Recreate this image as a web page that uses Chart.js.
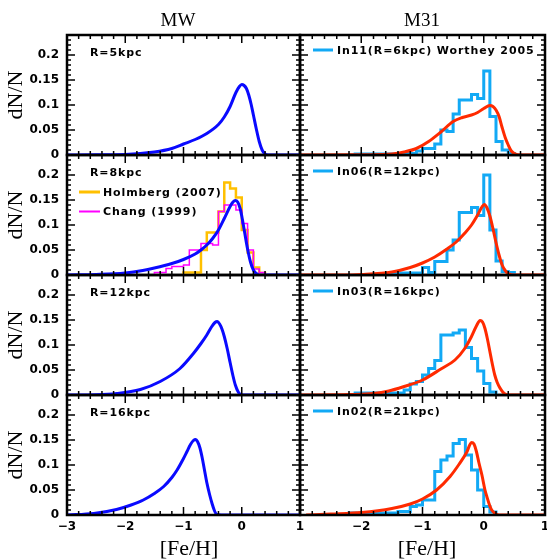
<!DOCTYPE html>
<html>
<head>
<meta charset="utf-8">
<title>MW / M31 metallicity distributions</title>
<script src="https://cdn.jsdelivr.net/npm/chart.js@4.4.1/dist/chart.umd.min.js"></script>
<style>
  html, body { margin: 0; padding: 0; background: #fff; }
  #figure { position: relative; width: 547px; height: 560px; overflow: hidden; }
  #figure canvas { position: absolute; left: 0; top: 0; }
  .lbl { position: absolute; white-space: nowrap; color: #000; }
  .title { font-family: "Liberation Serif", serif; font-size: 19px; transform: translate(-50%, -50%); }
  .ytitle { font-family: "Liberation Serif", serif; font-size: 22px; transform: translate(-50%, -50%) rotate(-90deg); }
  .xtitle { font-family: "Liberation Serif", serif; font-size: 22px; transform: translate(-50%, -50%); }
  .tag { font-family: "DejaVu Sans", sans-serif; font-weight: bold; font-size: 11px; letter-spacing: 0.9px;
         transform: translateY(-50%); display: flex; align-items: center; }
  .tag i { display: inline-block; width: 21px; margin-right: 3px; border-top: 3px solid; }
</style>
</head>
<body>
<div id="figure">
  <div class="lbl title" style="left:178px;top:20px">MW</div>
  <div class="lbl title" style="left:422px;top:20px">M31</div>

  <div class="lbl ytitle" style="left:15px;top:95px">dN/N</div>
  <div class="lbl ytitle" style="left:15px;top:215px">dN/N</div>
  <div class="lbl ytitle" style="left:15px;top:335px">dN/N</div>
  <div class="lbl ytitle" style="left:15px;top:455px">dN/N</div>

  <div class="lbl xtitle" style="left:189px;top:548px">[Fe/H]</div>
  <div class="lbl xtitle" style="left:427px;top:548px">[Fe/H]</div>

  <div class="lbl tag" style="left:90px;top:52px">R=5kpc</div>
  <div class="lbl tag" style="left:90px;top:172px">R=8kpc</div>
  <div class="lbl tag" style="left:79px;top:192px"><i style="border-color:#ffc000"></i>Holmberg (2007)</div>
  <div class="lbl tag" style="left:79px;top:211px"><i style="border-color:#ff00ff;border-top-width:2px"></i>Chang (1999)</div>
  <div class="lbl tag" style="left:90px;top:292px">R=12kpc</div>
  <div class="lbl tag" style="left:90px;top:412px">R=16kpc</div>

  <div class="lbl tag" style="left:313px;top:50px"><i style="border-color:#12a9f5;width:20px;margin-right:4px"></i>In11(R=6kpc) Worthey 2005</div>
  <div class="lbl tag" style="left:313px;top:171px"><i style="border-color:#12a9f5;width:20px;margin-right:4px"></i>In06(R=12kpc)</div>
  <div class="lbl tag" style="left:313px;top:291px"><i style="border-color:#12a9f5;width:20px;margin-right:4px"></i>In03(R=16kpc)</div>
  <div class="lbl tag" style="left:313px;top:411px"><i style="border-color:#12a9f5;width:20px;margin-right:4px"></i>In02(R=21kpc)</div>
</div>

<script>
"use strict";

// ---------- Axes ----------

const X_MIN = -3, X_MAX = 1, Y_MAX = 0.24;
const X_MINOR = 0.2, Y_MINOR = 0.01;
const BIN = 0.1;                        // histogram bin width in dex
const xTicksLeft = [-3, -2, -1, 0, 1];
const xTicksRight = [-2, -1, 0, 1];     // -3 sits under the MW panel's "1"
const yTicks = [0, 0.05, 0.1, 0.15, 0.2];

// ---------- MW model curves ([Fe/H], dN/N) ----------

const mw5Fe = [-3, -2.5, -2, -1.5, -1.2, -1, -0.8, -0.6, -0.4, -0.3, -0.2, -0.1, -0.04, 0, 0.04, 0.08, 0.12, 0.16, 0.2, 0.25, 0.3, 0.35, 0.4, 0.45, 1];
const mw5N  = [0, 0.0003, 0.001, 0.006, 0.013, 0.022, 0.031, 0.043, 0.061, 0.076, 0.097, 0.125, 0.137, 0.141, 0.139, 0.133, 0.12, 0.102, 0.08, 0.052, 0.027, 0.01, 0.002, 0, 0];

const mw8Fe = [-3, -2.5, -2, -1.7, -1.5, -1.2, -1, -0.8, -0.7, -0.6, -0.5, -0.4, -0.3, -0.2, -0.15, -0.11, -0.07, -0.03, 0, 0.05, 0.1, 0.15, 0.2, 0.25, 0.3, 1];
const mw8N  = [0, 0.001, 0.004, 0.009, 0.014, 0.023, 0.031, 0.042, 0.05, 0.06, 0.073, 0.09, 0.113, 0.137, 0.146, 0.149, 0.146, 0.134, 0.118, 0.085, 0.052, 0.026, 0.01, 0.003, 0, 0];

const mw12Fe = [-3, -2.5, -2.14, -1.74, -1.4, -1.06, -0.83, -0.7, -0.6, -0.52, -0.46, -0.42, -0.38, -0.34, -0.3, -0.25, -0.2, -0.15, -0.11, -0.06, 0, 1];
const mw12N  = [0, 0.0005, 0.003, 0.011, 0.027, 0.053, 0.083, 0.103, 0.12, 0.136, 0.145, 0.147, 0.142, 0.132, 0.117, 0.093, 0.065, 0.038, 0.02, 0.006, 0, 0];

const mw16Fe = [-3, -2.54, -2.15, -1.9, -1.69, -1.5, -1.34, -1.2, -1.11, -1, -0.94, -0.88, -0.83, -0.79, -0.76, -0.72, -0.68, -0.64, -0.6, -0.55, -0.51, -0.47, -0.43, -0.35, 1];
const mw16N  = [0, 0.003, 0.011, 0.02, 0.03, 0.043, 0.057, 0.075, 0.09, 0.113, 0.127, 0.141, 0.149, 0.151, 0.147, 0.135, 0.115, 0.09, 0.065, 0.04, 0.023, 0.009, 0.001, 0, 0];

// ---------- Solar neighbourhood histograms (R = 8 kpc) ----------

const holmbergStart = -1.0;
const holmbergN = [0.005, 0.005, 0.005, 0.05, 0.085, 0.085, 0.127, 0.185, 0.173, 0.155, 0.09, 0.045, 0.015, 0.004];

const changStart = -1.5;
const changN = [0.005, 0.005, 0.013, 0.017, 0.017, 0.02, 0.05, 0.05, 0.063, 0.063, 0.06, 0.127, 0.14, 0.14, 0.13, 0.103, 0.05, 0.012, 0.005];

// ---------- M31 fields (Worthey 2005) ----------

const in11Start = -2.1;
const in11N = [0.002, 0.002, 0.002, 0.002, 0.002, 0.002, 0.002, 0.003, 0.003, 0.003, 0.008, 0.013, 0.013, 0.022, 0.05, 0.047, 0.082, 0.11, 0.11, 0.121, 0.113, 0.168, 0.077, 0.027, 0.01, 0.003];

const in06Start = -1.5;
const in06N = [0.004, 0.004, 0.004, 0.004, 0.004, 0.015, 0.005, 0.027, 0.027, 0.05, 0.07, 0.125, 0.125, 0.135, 0.119, 0.2, 0.09, 0.028, 0.007, 0.005];

const in03Start = -2.1;
const in03N = [0.004, 0.004, 0.004, 0.004, 0.004, 0.004, 0.004, 0.004, 0.01, 0.022, 0.027, 0.04, 0.053, 0.069, 0.12, 0.12, 0.124, 0.13, 0.095, 0.073, 0.048, 0.023, 0.006];

const in02Start = -2.2;
const in02N = [0.004, 0.004, 0.004, 0.004, 0.004, 0.004, 0.004, 0.004, 0.007, 0.007, 0.017, 0.02, 0.03, 0.03, 0.087, 0.11, 0.118, 0.143, 0.151, 0.12, 0.09, 0.05, 0.017, 0.006];

// ---------- M31 model curves ----------

const m31aFe = [-3, -2, -1.7, -1.5, -1.3, -1.1, -0.9, -0.7, -0.5, -0.35, -0.2, -0.1, 0, 0.1, 0.15, 0.2, 0.25, 0.3, 0.35, 0.4, 0.45, 0.5, 0.6, 1];
const m31aN  = [0, 0.0005, 0.001, 0.002, 0.006, 0.013, 0.027, 0.046, 0.067, 0.075, 0.08, 0.085, 0.093, 0.099, 0.097, 0.09, 0.077, 0.055, 0.035, 0.02, 0.008, 0.003, 0, 0];

const m31bFe = [-3, -2.3, -2, -1.5, -1.2, -1, -0.8, -0.6, -0.45, -0.3, -0.2, -0.1, -0.03, 0.01, 0.05, 0.1, 0.15, 0.2, 0.25, 0.3, 0.35, 0.4, 0.5, 1];
const m31bN  = [0, 0, 0.001, 0.006, 0.015, 0.024, 0.036, 0.052, 0.066, 0.085, 0.1, 0.12, 0.136, 0.141, 0.135, 0.118, 0.093, 0.065, 0.04, 0.02, 0.009, 0.003, 0, 0];

const m31cFe = [-3, -2.2, -1.8, -1.55, -1.3, -1, -0.7, -0.47, -0.31, -0.2, -0.12, -0.06, -0.02, 0.02, 0.06, 0.1, 0.14, 0.18, 0.22, 0.27, 0.31, 0.35, 0.45, 1];
const m31cN  = [0, 0.001, 0.003, 0.008, 0.017, 0.03, 0.052, 0.07, 0.093, 0.117, 0.138, 0.149, 0.146, 0.133, 0.112, 0.087, 0.062, 0.04, 0.025, 0.013, 0.006, 0.002, 0, 0];

const m31dFe = [-2.9, -2.5, -2, -1.5, -1.2, -1, -0.77, -0.55, -0.4, -0.28, -0.2, -0.16, -0.12, -0.08, -0.03, 0.02, 0.05, 0.1, 0.13, 0.2, 0.3, 1];
const m31dN  = [0, 0.002, 0.005, 0.013, 0.022, 0.032, 0.05, 0.077, 0.102, 0.125, 0.145, 0.142, 0.127, 0.105, 0.08, 0.05, 0.037, 0.018, 0.01, 0.002, 0, 0];

// ---------- Layout ----------

const W = 547, H = 560;
const COLS = [{ left: 67, right: 300 }, { left: 300, right: 545 }];
const ROWS = [{ top: 35, bottom: 155 }, { top: 155, bottom: 275 }, { top: 275, bottom: 395 }, { top: 395, bottom: 515 }];
const X_AXIS_H = 30;

const BLUE = "#0a0aff", RED = "#ff2a00", CYAN = "#12a9f5", GOLD = "#ffc000", MAGENTA = "#ff00ff";
const tickFont = { family: "DejaVu Sans", weight: "bold", size: 12 };

// ---------- Dataset builders ----------

function curve(fe, n, color) {
    return {
        data: fe.map((x, i) => ({ x, y: n[i] })),
        borderColor: color,
        borderWidth: 3,
        cubicInterpolationMode: "monotone",
        pointRadius: 0,
    };
}

// Step outline: rises at the first bin edge, drops after the last one
function histogram(start, counts, color, width) {
    const pts = [{ x: start, y: 0 }];
    counts.forEach((c, i) => pts.push({ x: start + i * BIN, y: c }));
    pts.push({ x: start + counts.length * BIN, y: 0 });
    return {
        data: pts,
        borderColor: color,
        borderWidth: width,
        stepped: "before",
        borderJoinStyle: "miter",
        pointRadius: 0,
    };
}

// ---------- Frame + inward ticks on all four sides ----------

const frameTicks = {
    id: "frameTicks",
    afterDatasetsDraw(chart) {
        const { ctx, chartArea: a, scales: { x, y } } = chart;
        ctx.save();
        ctx.strokeStyle = "#000";
        ctx.lineWidth = 1.5;
        ctx.beginPath();
        const nx = Math.round((X_MAX - X_MIN) / X_MINOR);
        for (let i = 0; i <= nx; i++) {
            const px = x.getPixelForValue(X_MIN + i * X_MINOR);
            const len = i % 5 === 0 ? 8 : 4;
            ctx.moveTo(px, a.bottom); ctx.lineTo(px, a.bottom - len);
            ctx.moveTo(px, a.top); ctx.lineTo(px, a.top + len);
        }
        const ny = Math.round(Y_MAX / Y_MINOR);
        for (let i = 0; i <= ny; i++) {
            const py = y.getPixelForValue(i * Y_MINOR);
            const len = i % 5 === 0 ? 8 : 4;
            ctx.moveTo(a.left, py); ctx.lineTo(a.left + len, py);
            ctx.moveTo(a.right, py); ctx.lineTo(a.right - len, py);
        }
        ctx.stroke();
        ctx.lineWidth = 2.5;
        ctx.strokeRect(a.left, a.top, a.right - a.left, a.bottom - a.top);
        ctx.restore();
    },
};

function fmtFe(v) {
    return v < 0 ? "\u2212" + (-v) : String(v);
}

function makePanel(col, row, datasets) {
    const fig = document.getElementById("figure");
    const canvas = document.createElement("canvas");
    canvas.width = W;
    canvas.height = H;
    fig.insertBefore(canvas, fig.firstChild);

    const c = COLS[col], r = ROWS[row];
    const showY = col === 0;
    const showX = row === ROWS.length - 1;
    const xTicks = col === 0 ? xTicksLeft : xTicksRight;

    return new Chart(canvas, {
        type: "line",
        data: { datasets },
        options: {
            responsive: false,
            animation: false,
            events: [],
            layout: {
                padding: {
                    left: showY ? 0 : c.left,
                    right: W - c.right,
                    top: r.top,
                    bottom: H - r.bottom - (showX ? X_AXIS_H : 0),
                },
            },
            plugins: { legend: { display: false }, tooltip: { enabled: false } },
            scales: {
                x: {
                    type: "linear",
                    min: X_MIN,
                    max: X_MAX,
                    display: showX,
                    grid: { display: false, drawTicks: false },
                    border: { display: false },
                    afterBuildTicks: (s) => { s.ticks = xTicks.map((v) => ({ value: v })); },
                    afterFit: (s) => {
                        if (!showX) return;
                        s.height = X_AXIS_H;
                        s.paddingLeft = 0;
                        s.paddingRight = 0;
                    },
                    ticks: { padding: 5, color: "#000", font: tickFont, maxRotation: 0, autoSkip: false, callback: fmtFe },
                },
                y: {
                    type: "linear",
                    min: 0,
                    max: Y_MAX,
                    display: showY,
                    grid: { display: false, drawTicks: false },
                    border: { display: false },
                    afterBuildTicks: (s) => { s.ticks = yTicks.map((v) => ({ value: v })); },
                    afterFit: (s) => {
                        if (!showY) return;
                        s.width = c.left;
                        s.paddingTop = 0;
                        s.paddingBottom = 0;
                    },
                    ticks: { padding: 8, color: "#000", font: tickFont, autoSkip: false, callback: (v) => String(+v.toFixed(2)) },
                },
            },
        },
        plugins: [frameTicks],
    });
}

// ---------- Panels ----------

makePanel(0, 0, [curve(mw5Fe, mw5N, BLUE)]);
makePanel(0, 1, [
    curve(mw8Fe, mw8N, BLUE),
    histogram(changStart, changN, MAGENTA, 1.5),
    histogram(holmbergStart, holmbergN, GOLD, 2.5),
]);
makePanel(0, 2, [curve(mw12Fe, mw12N, BLUE)]);
makePanel(0, 3, [curve(mw16Fe, mw16N, BLUE)]);

makePanel(1, 0, [curve(m31aFe, m31aN, RED), histogram(in11Start, in11N, CYAN, 3)]);
makePanel(1, 1, [curve(m31bFe, m31bN, RED), histogram(in06Start, in06N, CYAN, 3)]);
makePanel(1, 2, [curve(m31cFe, m31cN, RED), histogram(in03Start, in03N, CYAN, 3)]);
makePanel(1, 3, [curve(m31dFe, m31dN, RED), histogram(in02Start, in02N, CYAN, 3)]);
</script>
</body>
</html>
